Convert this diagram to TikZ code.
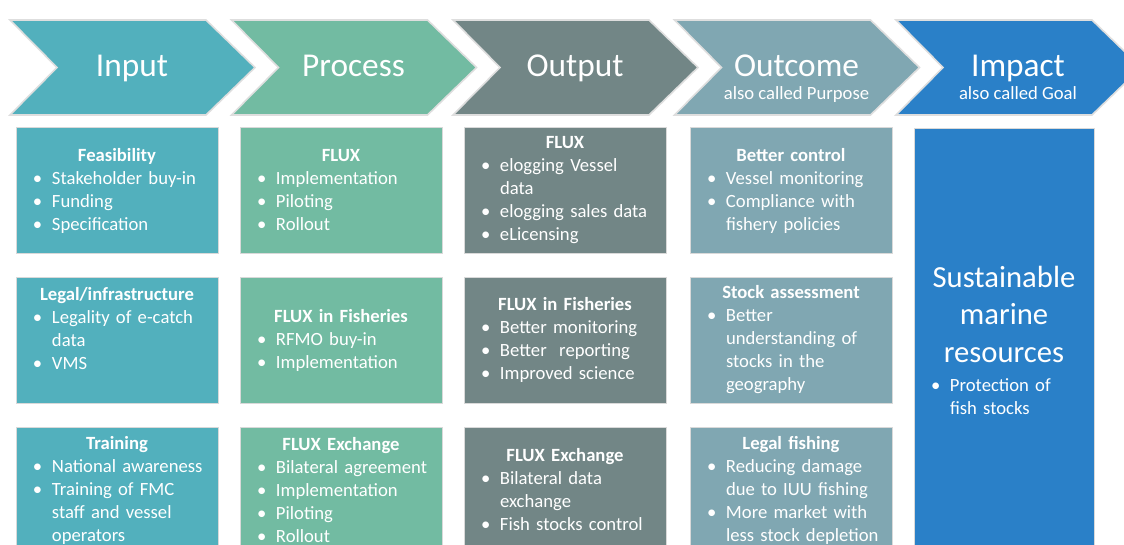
\documentclass[tikz,border=0pt]{standalone}
\usepackage{fontspec}
\setmainfont{Carlito}
\usetikzlibrary{positioning,calc}

\definecolor{inputcol}{RGB}{82,176,189}
\definecolor{processcol}{RGB}{114,187,162}
\definecolor{outputcol}{RGB}{114,134,134}
\definecolor{outcomecol}{RGB}{128,167,178}
\definecolor{impactcol}{RGB}{42,128,200}

\newcommand{\boxtitle}[1]{\noindent\hbox to\hsize{\hfil\bfseries #1\hfil}\par}
\newcommand{\bigline}[1]{\noindent\hbox to\hsize{\hfil #1\hfil}\par}
\newcommand{\bitem}[1]{\hangindent=27pt\hangafter=1\noindent\hspace*{12.75pt}\makebox[14.25pt][l]{\textbullet}#1\par}

\begin{document}
\begin{tikzpicture}[x=0.75pt, y=-0.75pt,
        chevron/.style={draw=black!13, line width=1.2pt, line join=miter},
        headtext/.style={text=white, anchor=base, font=\fontsize{25}{30}\selectfont},
        subtext/.style={text=white, anchor=base, font=\fontsize{14}{17}\selectfont},
        stagebox/.style={draw=black!15, line width=0.6pt, text=white, inner sep=0pt, text width=151.5pt, minimum height=94.5pt, font=\fontsize{14}{17.25}\selectfont},
        inbox/.style={stagebox, fill=inputcol},
        procbox/.style={stagebox, fill=processcol},
        outbox/.style={stagebox, fill=outputcol},
        outcbox/.style={stagebox, fill=outcomecol},
        impbox/.style={stagebox, fill=impactcol, text width=135pt, minimum height=318.75pt}]
        \clip (0,0) rectangle (1124,545);

        % header chevrons, one per stage
        \foreach \x/\col/\name in {10/inputcol/Input, 231.5/processcol/Process, 453/outputcol/Output, 674.5/outcomecol/Outcome, 896/impactcol/Impact}{
            \filldraw[chevron, fill=\col] (\x,20) -- ++(196,0) -- ++(49,47.5) -- ++(-49,47.5) -- ++(-196,0) -- ++(47,-47.5) -- cycle;
            \node[headtext] (h\name) at (\x+122,77) {\name};
        }
        \node[subtext] (sOutcome) at (796.5,100) {also called Purpose};    % under "Outcome"
        \node[subtext] (sImpact) at (1018,100) {also called Goal};         % under "Impact"

        % input column
        \node[inbox] (in1) at (117,190.5) {\boxtitle{Feasibility}\bitem{Stakeholder buy-in}\bitem{Funding}\bitem{Specification}};
        \node[inbox] (in2) at (117,340) {\boxtitle{Legal/infrastructure}\bitem{Legality of e-catch\newline data}\bitem{VMS}\noindent\mbox{}\par};
        \node[inbox] (in3) at (117,490) {\boxtitle{Training}\bitem{National awareness}\bitem{Training of FMC\newline staff and vessel\newline operators}};

        % process column
        \node[procbox] (pr1) at (341,190.5) {\boxtitle{FLUX}\bitem{Implementation}\bitem{Piloting}\bitem{Rollout}};
        \node[procbox] (pr2) at (341,340) {\boxtitle{FLUX in Fisheries}\bitem{RFMO buy-in}\bitem{Implementation}};
        \node[procbox] (pr3) at (341,490) {\boxtitle{FLUX Exchange}\bitem{Bilateral agreement}\bitem{Implementation}\bitem{Piloting}\bitem{Rollout}};

        % output column
        \node[outbox] (ou1) at (565,190.5) {\boxtitle{FLUX}\bitem{elogging Vessel\newline data}\bitem{elogging sales data}\bitem{eLicensing}};
        \node[outbox] (ou2) at (565,340) {\boxtitle{FLUX in Fisheries}\bitem{Better monitoring}\bitem{Better\ \ reporting}\bitem{Improved science}};
        \node[outbox] (ou3) at (565,490) {\boxtitle{FLUX Exchange}\bitem{Bilateral data\newline exchange}\bitem{Fish stocks control}};

        % outcome column
        \node[outcbox] (oc1) at (791,190.5) {\boxtitle{Better control}\bitem{Vessel monitoring}\bitem{Compliance with\newline fishery policies}};
        \node[outcbox] (oc2) at (791,340) {\boxtitle{Stock assessment}\bitem{Better\newline understanding of\newline stocks in the\newline geography}};
        \node[outcbox] (oc3) at (791,490) {\boxtitle{Legal fishing}\bitem{Reducing damage\newline due to IUU fishing}\bitem{More market with\newline less stock depletion}};

        % impact column, one tall box
        \node[impbox] (imp) at (1004,340.5) {{\fontsize{23}{28}\selectfont\bigline{Sustainable}\bigline{marine}\bigline{resources}}\vspace{5pt}\bitem{Protection of\newline fish stocks}};
    \end{tikzpicture}
\end{document}
